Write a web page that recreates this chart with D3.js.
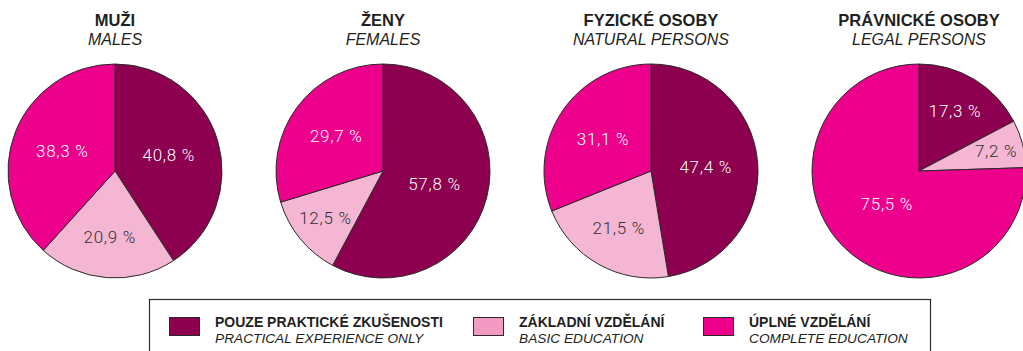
<!DOCTYPE html>
<html>
<head>
<meta charset="utf-8">
<script src="https://cdn.jsdelivr.net/npm/d3@7"></script>
<style>
  html, body { margin: 0; padding: 0; background: #fff; }
  svg { display: block; }
  .title { font-family: "Liberation Sans", Arial, sans-serif; font-weight: bold; font-size: 16.5px; fill: #231f20; }
  .subtitle { font-family: "Liberation Sans", Arial, sans-serif; font-style: italic; font-size: 16px; fill: #231f20; }
  .pct { font-family: Roboto, "Liberation Sans", Arial, sans-serif; font-weight: 300; font-size: 17px; letter-spacing: 0.7px; }
  .leg-b { font-family: "Liberation Sans", Arial, sans-serif; font-weight: bold; font-size: 14px; fill: #231f20; }
  .leg-i { font-family: "Liberation Sans", Arial, sans-serif; font-style: italic; font-size: 13.7px; fill: #231f20; }
</style>
</head>
<body>
<svg id="chart" width="1023" height="351"></svg>
<script>
// Pie titles (Czech / English)
const titles = ["MUŽI", "ŽENY", "FYZICKÉ OSOBY", "PRÁVNICKÉ OSOBY"];
const subtitles = ["MALES", "FEMALES", "NATURAL PERSONS", "LEGAL PERSONS"];

// Education categories
const categories = ["practical", "basic", "complete"];
const categoryLabels = ["POUZE PRAKTICKÉ ZKUŠENOSTI", "ZÁKLADNÍ VZDĚLÁNÍ", "ÚPLNÉ VZDĚLÁNÍ"];
const categoryLabelsEn = ["PRACTICAL EXPERIENCE ONLY", "BASIC EDUCATION", "COMPLETE EDUCATION"];

// Shares (%) per group, in category order
const practical = [40.8, 57.8, 47.4, 17.3];
const basic     = [20.9, 12.5, 21.5, 7.2];
const complete  = [38.3, 29.7, 31.1, 75.5];

const sliceColors  = ["#8c004f", "#f4b6d3", "#ec008c"];
const legendColors = ["#8c004f", "#f39ac2", "#ec008c"];
const labelColors  = ["#ffffff", "#333132", "#ffffff"];

const svg = d3.select("#chart");
const radius = 107;
const cy = 171;

const x = d3.scalePoint().domain(titles).range([115, 919]);

const color = d3.scaleOrdinal().domain(categories).range(sliceColors);
const textColor = d3.scaleOrdinal().domain(categories).range(labelColors);

// label distance from centre: smaller slices sit further out
const labelRadius = d3.scaleLinear()
  .domain([7, 20, 30, 58, 76])
  .range([80, 67, 58, 53, 46])
  .clamp(true);

const pie = d3.pie().sort(null).value(d => d.value);
const arc = d3.arc().innerRadius(0).outerRadius(radius);

const fmt = v => d3.format(".1f")(v).replace(".", ",") + " %";

titles.forEach((t, i) => {
  const data = [
    { key: "practical", value: practical[i] },
    { key: "basic", value: basic[i] },
    { key: "complete", value: complete[i] }
  ];
  const g = svg.append("g").attr("transform", `translate(${x(t)},${cy})`);

  g.selectAll("path")
    .data(pie(data))
    .join("path")
    .attr("d", arc)
    .attr("fill", d => color(d.data.key))
    .attr("stroke", "#2b2a29")
    .attr("stroke-width", 1)
    .attr("stroke-linejoin", "round");

  g.selectAll("text.pct")
    .data(pie(data))
    .join("text")
    .attr("class", "pct")
    .attr("transform", d => {
      const r = labelRadius(d.data.value);
      const la = d3.arc().innerRadius(r).outerRadius(r);
      const [lx, ly] = la.centroid(d);
      return `translate(${lx},${ly})`;
    })
    .attr("text-anchor", "middle")
    .attr("dy", "0.36em")
    .attr("fill", d => textColor(d.data.key))
    .text(d => fmt(d.data.value));

  svg.append("text")
    .attr("class", "title")
    .attr("x", x(t))
    .attr("y", 25.5)
    .attr("text-anchor", "middle")
    .text(t);
  svg.append("text")
    .attr("class", "subtitle")
    .attr("x", x(t))
    .attr("y", 45)
    .attr("text-anchor", "middle")
    .text(subtitles[i]);
});

// Legend box
svg.append("rect")
  .attr("x", 149.5)
  .attr("y", 299.5)
  .attr("width", 781)
  .attr("height", 80)
  .attr("fill", "none")
  .attr("stroke", "#2b2a29")
  .attr("stroke-width", 1.2);

const legendX = [169, 473, 703];
categories.forEach((c, i) => {
  const lg = svg.append("g").attr("transform", `translate(${legendX[i]},317)`);
  lg.append("rect")
    .attr("x", 0.5).attr("y", 0.5)
    .attr("width", 30).attr("height", 18)
    .attr("fill", legendColors[i])
    .attr("stroke", "#2b2a29")
    .attr("stroke-width", 1);
  lg.append("text")
    .attr("class", "leg-b")
    .attr("x", 46)
    .attr("y", 10)
    .text(categoryLabels[i]);
  lg.append("text")
    .attr("class", "leg-i")
    .attr("x", 46)
    .attr("y", 26)
    .text(categoryLabelsEn[i]);
});
</script>
</body>
</html>
